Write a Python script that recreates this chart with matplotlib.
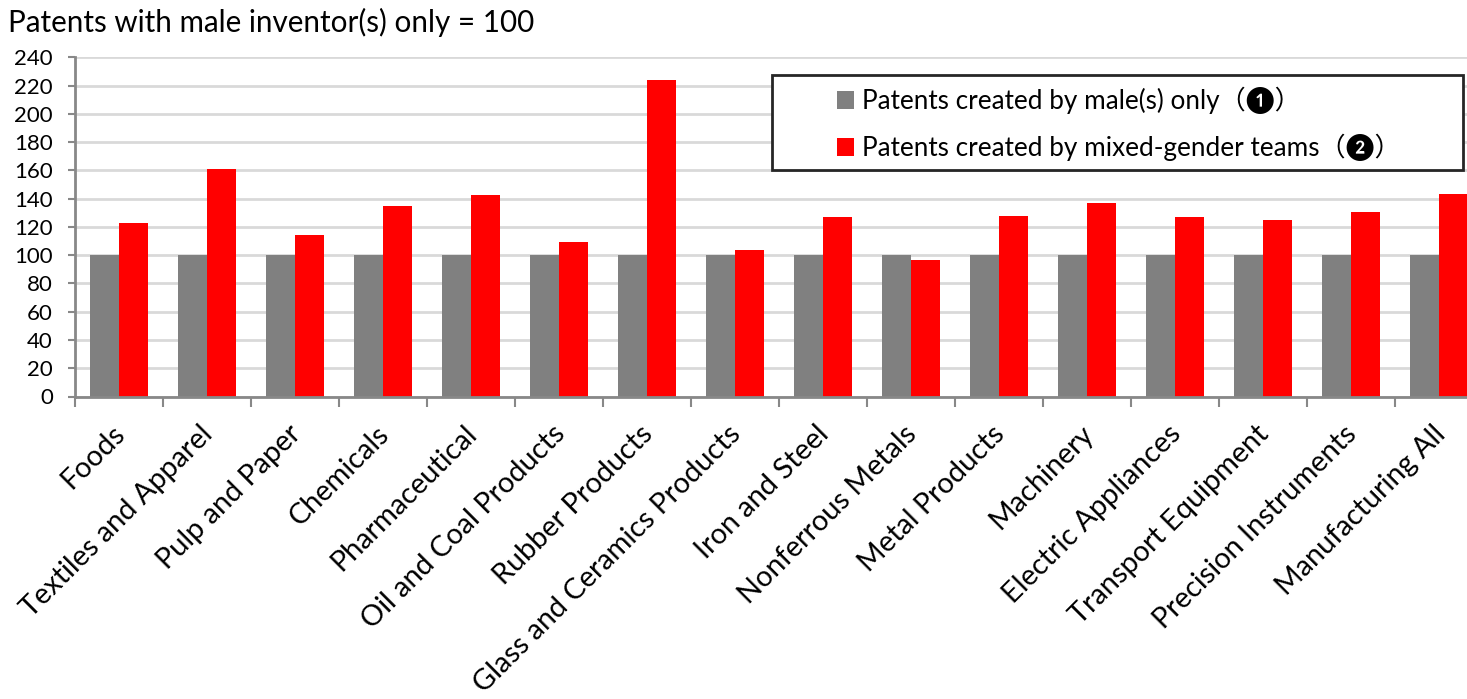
import numpy as np
import matplotlib
matplotlib.use("Agg")
import matplotlib.pyplot as plt
from matplotlib.patches import Rectangle
from matplotlib.transforms import ScaledTranslation

# industries (x axis)
categories = ["Foods", "Textiles and Apparel", "Pulp and Paper", "Chemicals",
              "Pharmaceutical", "Oil and Coal Products", "Rubber Products",
              "Glass and Ceramics Products", "Iron and Steel", "Nonferrous Metals",
              "Metal Products", "Machinery", "Electric Appliances",
              "Transport Equipment", "Precision Instruments", "Manufacturing All"]

# index, male-only patents = 100
male_only = [100] * 16
mixed_teams = [122.9, 161.1, 114.1, 134.6, 142.9, 109.5, 224.2, 104.0,
               126.9, 96.3, 127.8, 136.7, 127.1, 125.0, 130.2, 143.6]

series_labels = ["Patents created by male(s) only\uff08\u2776\uff09",
                 "Patents created by mixed-gender teams\uff08\u2777\uff09"]
yticks = list(range(0, 241, 20))

FONT = ["Lato", "DejaVu Sans", "Noto Sans CJK JP"]
plt.rcParams["font.family"] = FONT

W, H = 1467, 699
DPI = 100
fig = plt.figure(figsize=(W / DPI, H / DPI), dpi=DPI)
# the last category runs past the right edge on purpose
ax = fig.add_axes([75 / W, 1 - 396.5 / H, 1408 / W, (396.5 - 57.3) / H])

x = np.arange(len(categories)) + 0.5
w = 0.326
ax.bar(x - w / 2, male_only, width=w, color="#808080", zorder=2, label=series_labels[0])
ax.bar(x + w / 2, mixed_teams, width=w, color="#ff0000", zorder=2, label=series_labels[1])

ax.set_xlim(0, len(categories))
ax.set_ylim(0, 240)
ax.set_yticks(yticks)
ax.yaxis.grid(True, color="#d9d9d9", linewidth=2)
ax.set_axisbelow(True)

for s in ["top", "right"]:
    ax.spines[s].set_visible(False)
for s in ["left", "bottom"]:
    ax.spines[s].set_color("#888888")
    ax.spines[s].set_linewidth(2)

ax.tick_params(axis="y", length=5, width=1.5, color="#888888", labelsize=16, pad=11)
# boundary ticks on major, labels on minor at the bar-group centres
ax.set_xticks(np.arange(len(categories) + 1))
ax.set_xticklabels([])
ax.tick_params(axis="x", which="major", length=7, width=1.5, color="#888888")
ax.set_xticks(x, minor=True)
ax.set_xticklabels(categories, minor=True)
ax.tick_params(axis="x", which="minor", length=0, labelsize=20.8, pad=24)
offset = ScaledTranslation(2 / DPI, 0, fig.dpi_scale_trans)
for lab in ax.get_xticklabels(minor=True):
    lab.set_rotation(45)
    lab.set_ha("right")
    lab.set_va("center")
    lab.set_rotation_mode("anchor")
    lab.set_transform(lab.get_transform() + offset)

fig.text(8 / W, 1 - 22 / H, "Patents with male inventor(s) only = 100",
         fontsize=21.3, va="center", ha="left")

box = Rectangle((772 / W, 1 - 170 / H), 691 / W, 95 / H, transform=fig.transFigure,
                facecolor="white", edgecolor="#262626", linewidth=2, zorder=4)
fig.add_artist(box)
handles, labels = ax.get_legend_handles_labels()
fig.legend(handles, labels, loc="upper left", bbox_to_anchor=(837 / W, 1 - 87 / H),
           frameon=False, borderpad=0, borderaxespad=0, handlelength=0.65,
           handleheight=0.65, handletextpad=0.3, labelspacing=0.75, fontsize=18.8)

fig.savefig("out.png", dpi=DPI)
